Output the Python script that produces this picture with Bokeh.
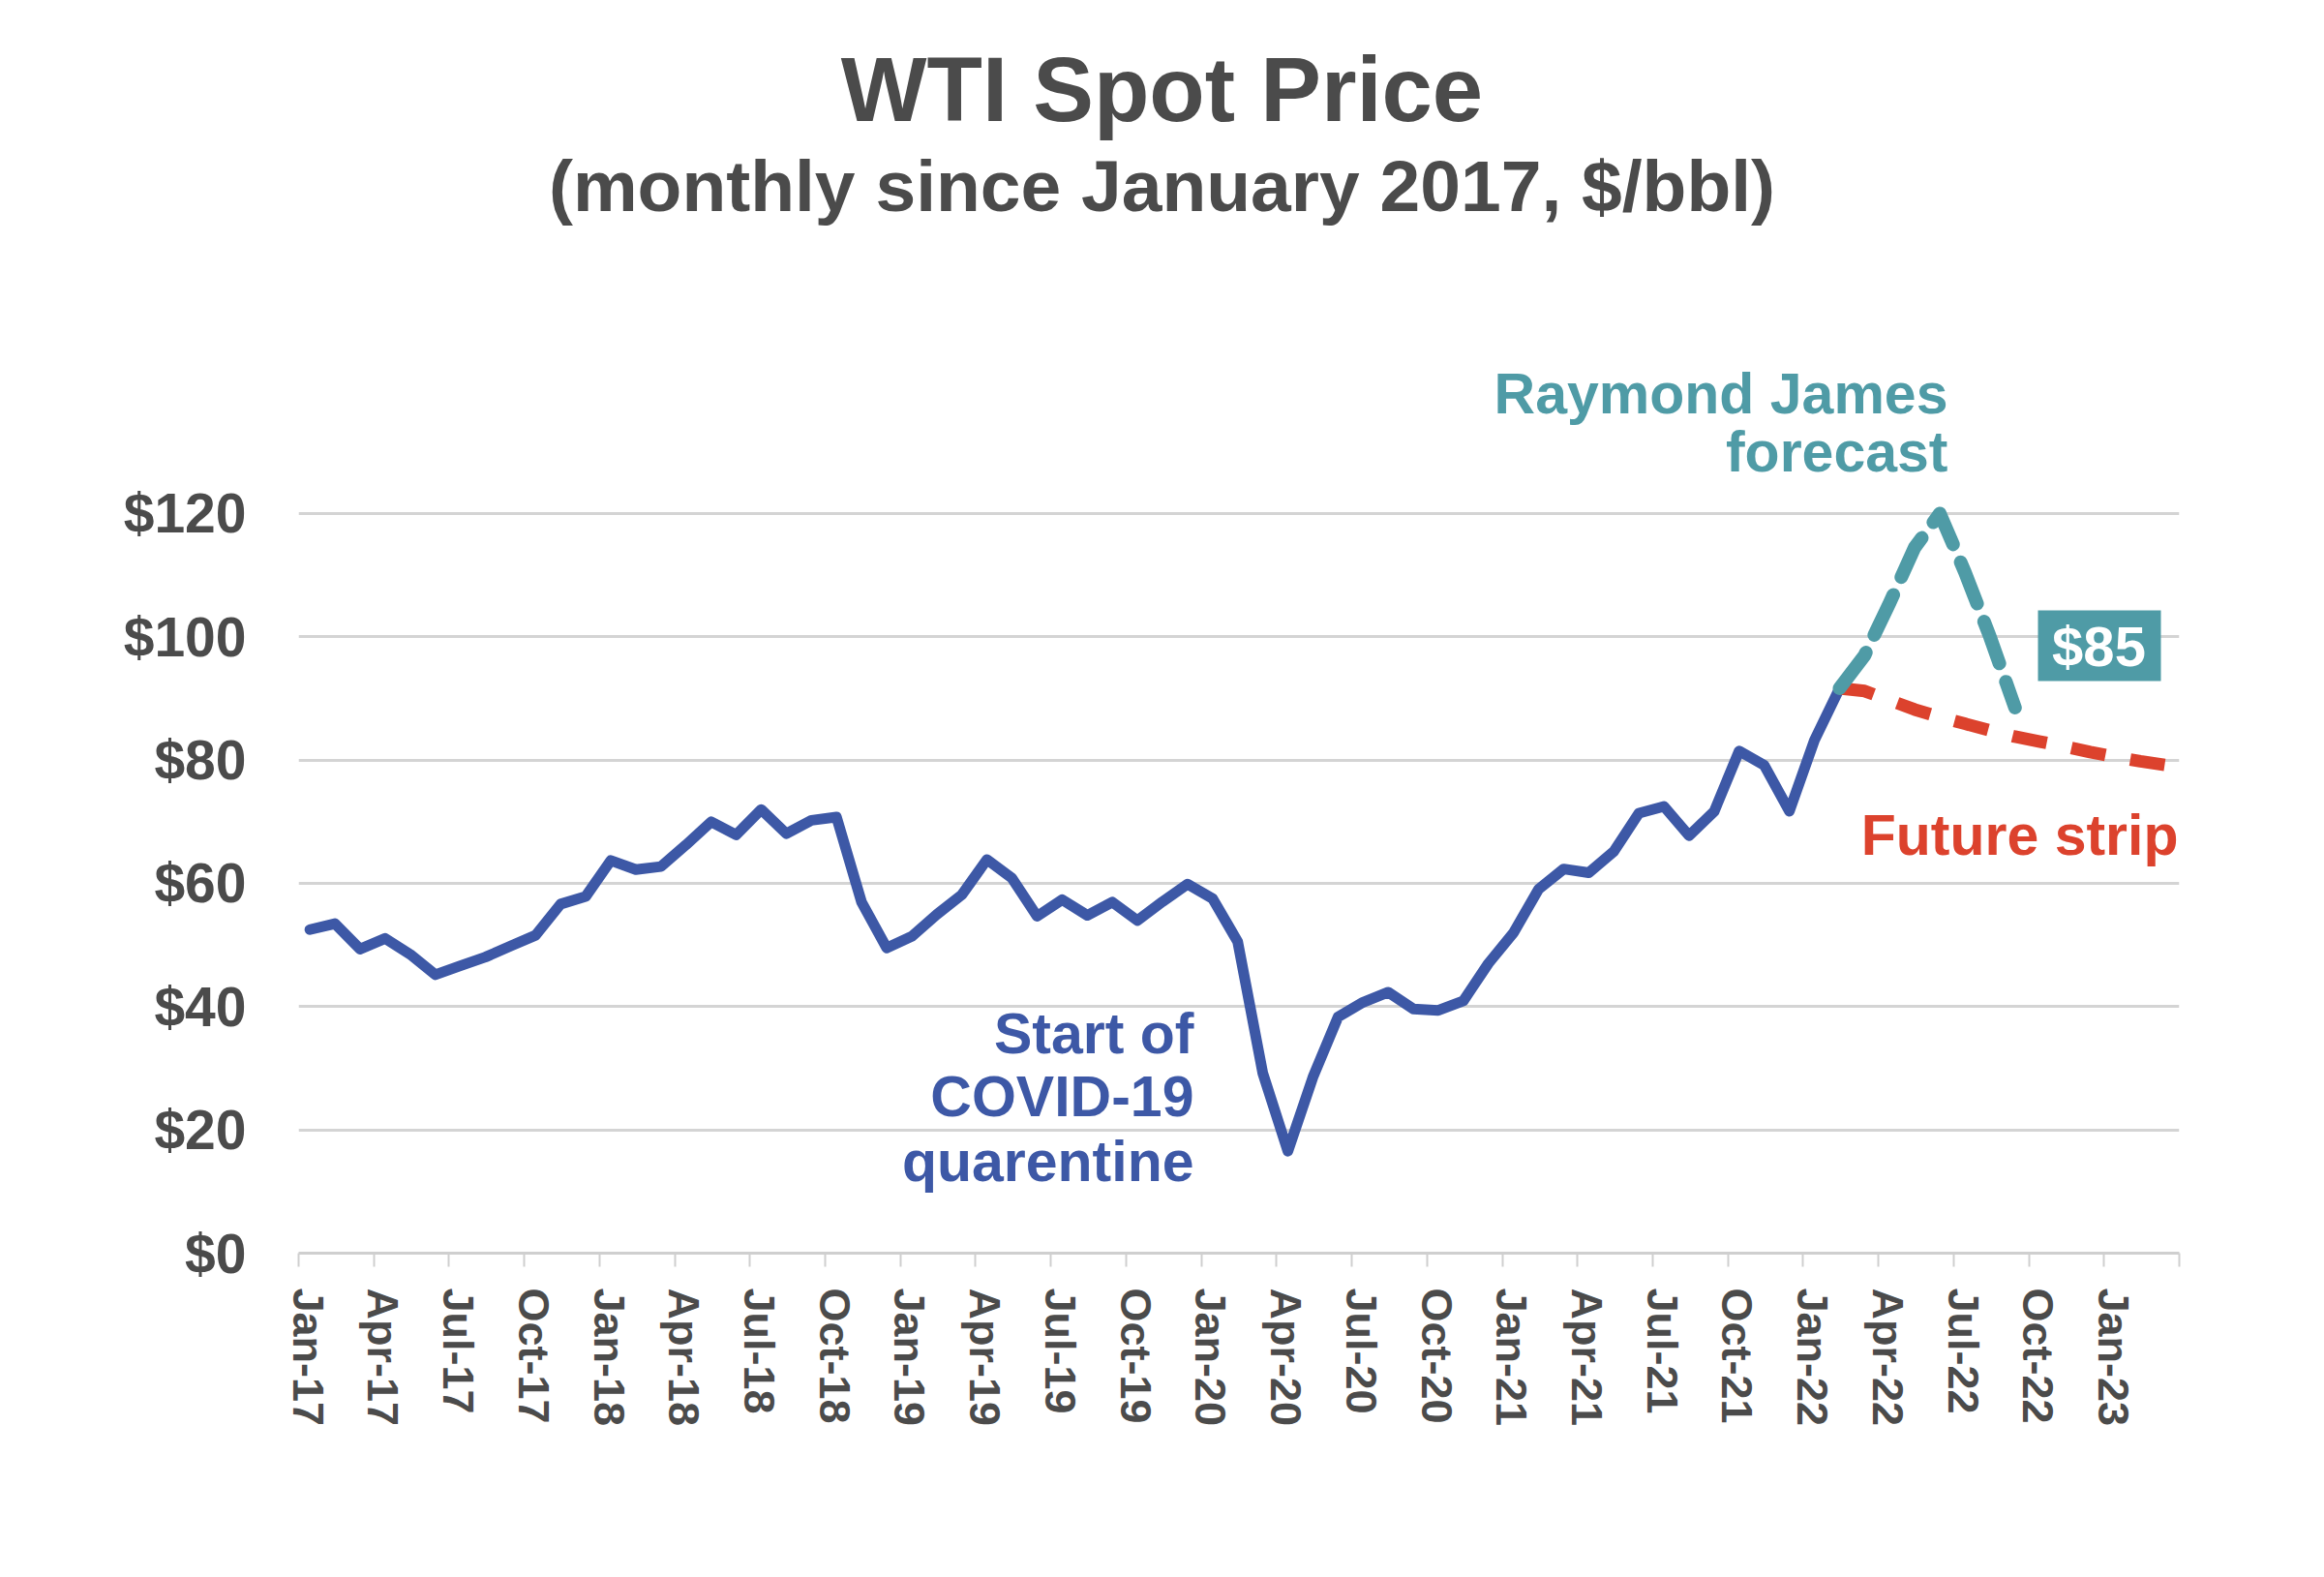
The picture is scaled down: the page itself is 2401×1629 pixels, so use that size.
from bokeh.plotting import figure
from bokeh.models import Range1d, FixedTicker, BoxAnnotation, Label, ColumnDataSource, LinearAxis
from bokeh.embed import file_html
from bokeh.resources import INLINE

# ---------------- data ----------------
MONTH_NAMES = ["Jan", "Feb", "Mar", "Apr", "May", "Jun",
               "Jul", "Aug", "Sep", "Oct", "Nov", "Dec"]
all_months = [f"{MONTH_NAMES[m]}-{17 + y}" for y in range(7) for m in range(12)][:75]

# WTI spot, monthly average ($/bbl), Jan-17 .. Feb-22
spot_start = "Jan-17"
wti_spot = [52.50, 53.47, 49.33, 51.06, 48.48, 45.18, 46.63, 48.04, 49.82, 51.58, 56.64, 57.88,
            63.70, 62.23, 62.73, 66.25, 69.98, 67.87, 71.98, 68.06, 70.23, 70.75, 56.96, 49.52,
            51.38, 54.95, 58.15, 63.86, 60.83, 54.66, 57.35, 54.81, 56.95, 53.96, 57.03, 59.88,
            57.52, 50.54, 29.21, 16.55, 28.56, 38.31, 40.71, 42.34, 39.63, 39.40, 40.94, 47.02,
            52.00, 59.04, 62.33, 61.72, 65.17, 71.38, 72.49, 67.73, 71.65, 81.48, 79.15, 71.71,
            83.22, 91.64]

# Raymond James forecast, Feb-22 .. Sep-22
rj_start = "Feb-22"
rj_forecast = [91.64, 97.0, 105.5, 114.5, 120.0, 110.5, 100.0, 88.5]

# Futures strip, Feb-22 .. Mar-23
strip_start = "Feb-22"
future_strip = [91.64, 91.2, 89.7, 88.2, 87.0, 85.9, 84.8, 83.8, 83.0, 82.2, 81.3, 80.5, 79.8, 79.2]

x_tick_labels = ["Jan-17", "Apr-17", "Jul-17", "Oct-17", "Jan-18", "Apr-18", "Jul-18", "Oct-18",
                 "Jan-19", "Apr-19", "Jul-19", "Oct-19", "Jan-20", "Apr-20", "Jul-20", "Oct-20",
                 "Jan-21", "Apr-21", "Jul-21", "Oct-21", "Jan-22", "Apr-22", "Jul-22", "Oct-22",
                 "Jan-23"]
y_ticks = [0, 20, 40, 60, 80, 100, 120]
y_tick_labels = ["$0", "$20", "$40", "$60", "$80", "$100", "$120"]

# ---------------- layout ----------------
W, H = 2390, 1610
LEFT, FRAME_RIGHT, FRAME_BOTTOM = 308, 2251, 1294
RIGHT = W - FRAME_RIGHT
BOTTOM = H - FRAME_BOTTOM
FRAME_W = FRAME_RIGHT - LEFT
FRAME_H = FRAME_BOTTOM
N_MONTHS = 75
PX_PER_UNIT = 6.367
Y_TOP = FRAME_H / PX_PER_UNIT
MID = 0.45          # point placed within its month
LABEL_SHIFT = 0.375  # tick label sits a little right of its tick


def xs_for(start, n):
    i0 = all_months.index(start)
    return [i0 + k + MID for k in range(n)]


# canvas-pixel -> data helpers for annotations
def dx(px):
    return (px - LEFT) / (FRAME_W / N_MONTHS)


def dy(py):
    return (FRAME_H - py) / PX_PER_UNIT


GRAY = "#4b4b4b"
BLUE = "#3d58a6"
TEAL = "#4f9ba6"
RED = "#dc422d"
FONT = "Liberation Sans"

p = figure(width=W, height=H, x_range=Range1d(0, N_MONTHS), y_range=Range1d(0, Y_TOP),
           output_backend="svg", toolbar_location=None,
           min_border_left=LEFT, min_border_right=RIGHT, min_border_top=0,
           min_border_bottom=BOTTOM)
p.outline_line_color = None
p.background_fill_color = "white"
p.border_fill_color = "white"

# grid / y axis
p.xgrid.visible = False
p.ygrid.ticker = FixedTicker(ticks=y_ticks)
p.ygrid.grid_line_color = "#d4d4d4"
p.ygrid.grid_line_width = 3

p.yaxis.ticker = FixedTicker(ticks=y_ticks)
p.yaxis.major_label_overrides = {t: l for t, l in zip(y_ticks, y_tick_labels)}
p.yaxis.axis_line_color = None
p.yaxis.major_tick_line_color = None
p.yaxis.minor_tick_line_color = None
p.yaxis.major_tick_out = 0
p.yaxis.major_tick_in = 0
p.yaxis.major_label_standoff = 54
p.yaxis.major_label_text_font = FONT
p.yaxis.major_label_text_font_style = "bold"
p.yaxis.major_label_text_font_size = "57px"
p.yaxis.major_label_text_color = GRAY

# x axis: line + ticks
x_ticks = list(range(0, N_MONTHS + 1, 3))
p.xaxis.ticker = FixedTicker(ticks=x_ticks)
p.xaxis.major_label_overrides = {t: "" for t in x_ticks}
p.xaxis.axis_line_color = "#cfcfcf"
p.xaxis.axis_line_width = 3
p.xaxis.major_tick_line_color = "#cfcfcf"
p.xaxis.major_tick_line_width = 2
p.xaxis.major_tick_out = 14
p.xaxis.major_tick_in = 0
p.xaxis.minor_tick_line_color = None
p.xaxis.major_label_standoff = 0
p.xaxis.major_label_orientation = "vertical"

# x axis: month labels
label_ticks = [t + LABEL_SHIFT for t in x_ticks[:len(x_tick_labels)]]
lab_axis = LinearAxis(ticker=FixedTicker(ticks=label_ticks),
                      major_label_overrides={t: l for t, l in zip(label_ticks, x_tick_labels)},
                      axis_line_color=None, major_tick_line_color=None,
                      minor_tick_line_color=None, major_tick_out=0, major_tick_in=0,
                      major_label_standoff=22, major_label_orientation="vertical",
                      major_label_text_font=FONT, major_label_text_font_style="bold",
                      major_label_text_font_size="45px", major_label_text_color=GRAY)
p.add_layout(lab_axis, "below")

# series
spot_src = ColumnDataSource(dict(x=xs_for(spot_start, len(wti_spot)), y=wti_spot))
strip_src = ColumnDataSource(dict(x=xs_for(strip_start, len(future_strip)), y=future_strip))
rj_src = ColumnDataSource(dict(x=xs_for(rj_start, len(rj_forecast)), y=rj_forecast))

p.line("x", "y", source=spot_src, line_color=BLUE, line_width=11, line_join="round", line_cap="round")
p.line("x", "y", source=strip_src, line_color=RED, line_width=13, line_dash="36 26",
       line_join="round", line_cap="butt")
p.line("x", "y", source=rj_src, line_color=TEAL, line_width=14, line_dash="46 20",
       line_join="round", line_cap="round")


# annotations (px, py = canvas position of text baseline)
def label(text, px, py, size, color, align="center"):
    p.add_layout(Label(x=dx(px), y=dy(py - 0.35 * size), text=text, text_font=FONT,
                       text_font_style="bold", text_font_size=f"{size}px", text_color=color,
                       text_align=align, text_baseline="alphabetic"))


label("WTI Spot Price", 1200, 125, 94, GRAY)
label("(monthly since January 2017, $/bbl)", 1200, 218, 75, GRAY)

label("Raymond James", 2012, 427, 59, TEAL, "right")
label("forecast", 2012, 487, 59, TEAL, "right")

p.add_layout(BoxAnnotation(left=dx(2105), right=dx(2232), top=dy(630), bottom=dy(703),
                           fill_color=TEAL, fill_alpha=1.0, line_color=None))
label("$85", 2168, 687, 58, "white")

label("Future strip", 2250, 883, 59, RED, "right")

label("Start of", 1233, 1088, 59, BLUE, "right")
label("COVID-19", 1233, 1153, 59, BLUE, "right")
label("quarentine", 1233, 1220, 59, BLUE, "right")

open("out.html", "w").write(file_html(p, INLINE))
